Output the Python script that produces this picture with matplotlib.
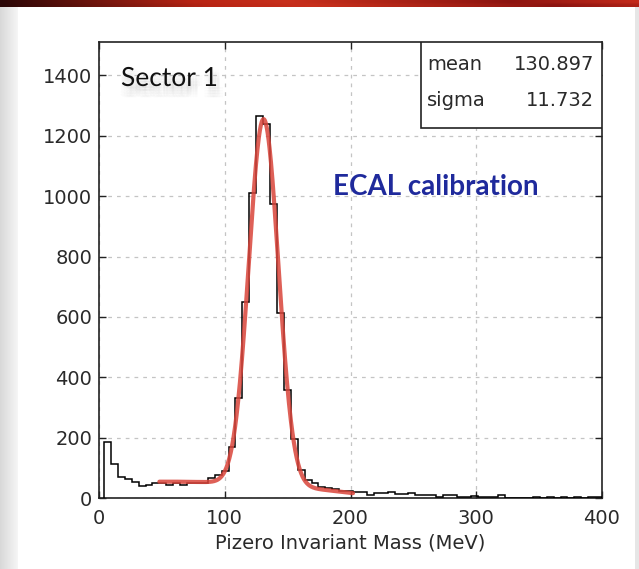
import numpy as np
import matplotlib
matplotlib.use("Agg")
import matplotlib.pyplot as plt
from matplotlib.patches import Rectangle
from matplotlib.colors import LinearSegmentedColormap
import matplotlib.patheffects as pe

# ---- histogram: pi0 invariant mass, 5.5 MeV bins from 4 to 400 MeV ----
bin_start = 4.0
bin_width = 5.5
counts = [
    185, 112, 72, 63, 54, 40, 44, 50, 50, 44,
    50, 44, 50, 50, 52, 66, 77, 91, 171, 331,
    648, 1009, 1265, 1240, 975, 612, 360, 195, 94, 60,
    50, 38, 35, 30, 25, 25, 21, 21, 10, 16,
    16, 21, 13, 13, 16, 10, 10, 10, 4, 10,
    10, 4, 4, 6, 4, 4, 4, 10, 2, 2,
    2, 2, 3, 0, 3, 0, 3, 0, 3, 0,
    3, 3,
]
edges = bin_start + bin_width * np.arange(len(counts) + 1)

# ---- fit: gaussian + quadratic background ----
fit_mean = 130.897
fit_sigma = 11.732
fit_amplitude = 1210.0
bg_pivot = 130.0
bg_coeffs = [45.0, -0.264, -0.001738]   # constant, linear, quadratic about pivot
fit_range = (48.0, 202.0)

x_ticks = [0, 100, 200, 300, 400]
y_ticks = [0, 200, 400, 600, 800, 1000, 1200, 1400]
x_limits = (0, 400)
y_limits = (0, 1510)

W, H = 639, 569
fig = plt.figure(figsize=(W / 100, H / 100), dpi=100)
fig.patch.set_facecolor("white")

def fx(px):
    return px / W

def fy(py):
    return 1 - py / H

# slide decoration: red header band and grey side shadows
grad = np.linspace(0, 1, 256)
band_h = 7
band = fig.add_axes([0, fy(band_h), 1, band_h / H])
band_cmap = LinearSegmentedColormap.from_list(
    "band", [(0, "#2a0606"), (0.3, "#b82414"), (0.45, "#c8301c"), (0.8, "#8c1410"), (1, "#c42a1a")])
band.imshow(np.vstack([grad, grad * 0.92]), aspect="auto", cmap=band_cmap, extent=[0, 1, 0, 1])
band.axis("off")

left_strip = fig.add_axes([0, 0, 18 / W, fy(band_h)])
shade_cmap = LinearSegmentedColormap.from_list("shade", ["#d8d8d8", "#f6f6f6"])
left_strip.imshow(grad[None, :], aspect="auto", cmap=shade_cmap, extent=[0, 1, 0, 1])
left_strip.axis("off")

right_strip = fig.add_axes([635 / W, 0, 4 / W, fy(band_h)])
right_strip.set_facecolor("#e6e6e6")
right_strip.set_xticks([])
right_strip.set_yticks([])
for s in right_strip.spines.values():
    s.set_visible(False)

# main plot
ax_l, ax_r, ax_t, ax_b = 99, 602, 42, 498.3
ax = fig.add_axes([fx(ax_l), fy(ax_b), (ax_r - ax_l) / W, (ax_b - ax_t) / H])
ax.set_xlim(*x_limits)
ax.set_ylim(*y_limits)
ax.set_xticks(x_ticks)
ax.set_yticks(y_ticks)

ax.grid(True, color="#c4c4c4", linestyle=(0, (3, 4)), linewidth=0.9)
ax.set_axisbelow(True)

ax.stairs(counts, edges, baseline=0, color="black", linewidth=1.1, zorder=3)

xf = np.linspace(fit_range[0], fit_range[1], 400)
background = bg_coeffs[0] + bg_coeffs[1] * (xf - bg_pivot) + bg_coeffs[2] * (xf - bg_pivot) ** 2
fit_curve = fit_amplitude * np.exp(-0.5 * ((xf - fit_mean) / fit_sigma) ** 2) + background
ax.plot(xf, fit_curve, color="#d9443a", linewidth=3.0, alpha=0.85, zorder=4,
        solid_capstyle="round")

for s in ax.spines.values():
    s.set_color("#222222")
    s.set_linewidth(1.2)
ax.tick_params(direction="in", length=5, width=1, top=True, right=True,
               labelsize=14, labelcolor="#2a2a2a", color="#222222")
ax.tick_params(axis="x", pad=8)
ax.tick_params(axis="y", pad=5)
ax.set_xlabel("Pizero Invariant Mass (MeV)", fontsize=14, color="#2a2a2a", labelpad=4)

# statistics box
box_left = (420.7 - ax_l) / (ax_r - ax_l)
box_bottom = (ax_b - 128.3) / (ax_b - ax_t)
ax.add_patch(Rectangle((box_left, box_bottom), 1 - box_left, 1 - box_bottom,
                       transform=ax.transAxes, facecolor="white", edgecolor="#222222",
                       linewidth=1.2, zorder=5))
fig.text(fx(427), fy(65), "mean", fontsize=14, color="#2a2a2a", va="center", ha="left")
fig.text(fx(594), fy(65), f"{fit_mean:.3f}", fontsize=14, color="#2a2a2a", va="center", ha="right")
fig.text(fx(427), fy(101), "sigma", fontsize=14, color="#2a2a2a", va="center", ha="left")
fig.text(fx(594), fy(101), f"{fit_sigma:.3f}", fontsize=14, color="#2a2a2a", va="center", ha="right")

# annotations: soft drop shadow built from many faint offset copies
offsets = [(dx, dy) for dx in (-1, 1, 3, 5) for dy in (-2, -4, -6, -8)]
shadow = [pe.SimplePatchShadow(offset=o, shadow_rgbFace="#777777", alpha=0.025) for o in offsets]
fig.text(fx(121), fy(86), "Sector 1", fontsize=19, family="Lato", color="#111111",
         va="baseline", ha="left", path_effects=shadow + [pe.Normal()])
fig.text(fx(333), fy(195), "ECAL calibration", fontsize=20, family="Lato",
         fontweight="bold", color="#1f2a9c", va="baseline", ha="left")

fig.savefig("out.png", dpi=100)
